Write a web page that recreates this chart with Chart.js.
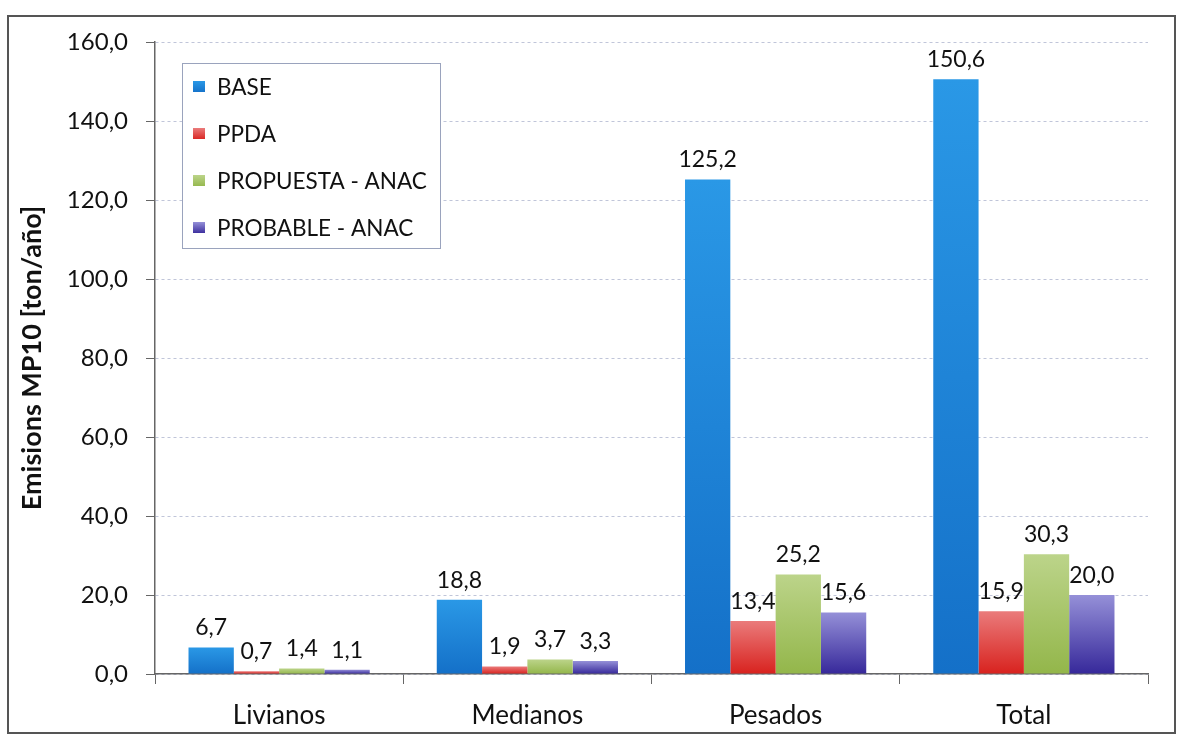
<!DOCTYPE html>
<html>
<head>
<meta charset="utf-8">
<script src="https://cdn.jsdelivr.net/npm/chart.js@4"></script>
<style>
  html, body { margin: 0; padding: 0; background: #fff; }
  #wrap { width: 1180px; height: 737px; position: relative; }
</style>
</head>
<body>
<div id="wrap"><canvas id="emisionesChart" width="1180" height="737"></canvas></div>
<script>
// Datos
const categories = ['Livianos', 'Medianos', 'Pesados', 'Total'];
const seriesLabels = ['BASE', 'PPDA', 'PROPUESTA - ANAC', 'PROBABLE - ANAC'];
const baseValues = [6.7, 18.8, 125.2, 150.6];
const ppdaValues = [0.7, 1.9, 13.4, 15.9];
const propuestaValues = [1.4, 3.7, 25.2, 30.3];
const probableValues = [1.1, 3.3, 15.6, 20.0];
const yMin = 0, yMax = 160, yStep = 20;
const yTitle = 'Emisions MP10 [ton/año]';

// colores (arriba, abajo) de cada serie
const seriesColors = [
    ['#2a98e6', '#1470c8'],
    ['#ea7b7b', '#d8221e'],
    ['#bcd48a', '#93b64a'],
    ['#9590d8', '#36289a']
];

const FONT = 'Lato, "Noto Sans", sans-serif';

function fmt(v) {
    return v.toFixed(1).replace('.', ',');
}

// Degradado vertical por barra
function barGradient(colors) {
    return function (ctx) {
        const chart = ctx.chart;
        if (ctx.type !== 'data' || !chart.chartArea) return colors[1];
        const y = chart.scales.y;
        const top = y.getPixelForValue(ctx.raw);
        const bottom = y.getPixelForValue(0);
        if (!isFinite(top) || bottom - top < 1) return colors[1];
        const g = chart.ctx.createLinearGradient(0, top, 0, bottom);
        g.addColorStop(0, colors[0]);
        g.addColorStop(1, colors[1]);
        return g;
    };
}

// Marco exterior
const framePlugin = {
    id: 'frame',
    beforeDraw(chart) {
        const c = chart.ctx;
        c.save();
        c.fillStyle = '#fff';
        c.fillRect(0, 0, chart.width, chart.height);
        c.strokeStyle = '#555';
        c.lineWidth = 2;
        c.strokeRect(8, 16, chart.width - 13, chart.height - 20);
        c.restore();
    }
};

// Etiquetas de valor sobre las barras
const valueLabels = {
    id: 'valueLabels',
    afterDatasetsDraw(chart) {
        const c = chart.ctx;
        c.save();
        c.font = '23px ' + FONT;
        c.fillStyle = '#111';
        c.textAlign = 'center';
        c.textBaseline = 'bottom';
        chart.data.datasets.forEach((ds, i) => {
            chart.getDatasetMeta(i).data.forEach((bar, j) => {
                c.fillText(fmt(ds.data[j]), bar.x, bar.y - 8);
            });
        });
        c.restore();
    }
};

// Leyenda dentro del area del grafico
const innerLegend = {
    id: 'innerLegend',
    afterDraw(chart) {
        const c = chart.ctx;
        const a = chart.chartArea;
        const x0 = a.left + 27, y0 = a.top + 21, w = 258, h = 185;
        c.save();
        c.fillStyle = '#fff';
        c.fillRect(x0, y0, w, h);
        c.strokeStyle = '#9aa3bd';
        c.lineWidth = 1;
        c.strokeRect(x0 + 0.5, y0 + 0.5, w, h);
        c.font = '22.5px ' + FONT;
        c.textBaseline = 'middle';
        chart.data.datasets.forEach((ds, i) => {
            const cy = y0 + 24 + i * 47;
            const g = c.createLinearGradient(0, cy - 6, 0, cy + 6);
            g.addColorStop(0, seriesColors[i][0]);
            g.addColorStop(1, seriesColors[i][1]);
            c.fillStyle = g;
            c.fillRect(x0 + 11, cy - 6, 12, 11);
            c.fillStyle = '#111';
            c.fillText(ds.label, x0 + 35, cy + 1);
        });
        c.restore();
    }
};

const seriesData = [baseValues, ppdaValues, propuestaValues, probableValues];

new Chart(document.getElementById('emisionesChart').getContext('2d'), {
    type: 'bar',
    data: {
        labels: categories,
        datasets: seriesData.map((vals, i) => ({
            label: seriesLabels[i],
            data: vals,
            backgroundColor: barGradient(seriesColors[i]),
            borderWidth: 0,
            categoryPercentage: 0.73,
            barPercentage: 1.0
        }))
    },
    options: {
        responsive: false,
        animation: false,
        devicePixelRatio: 1,
        layout: { padding: { top: 42, right: 32, bottom: 0, left: 0 } },
        plugins: {
            legend: { display: false },
            tooltip: { enabled: false }
        },
        scales: {
            x: {
                afterFit: s => { s.height = 63; },
                grid: {
                    display: true,
                    drawOnChartArea: false,
                    offset: true,
                    tickLength: 10,
                    tickColor: '#666'
                },
                border: { display: true, color: '#666', width: 1.5 },
                ticks: {
                    color: '#111',
                    padding: 16,
                    font: { family: FONT, size: 26 }
                }
            },
            y: {
                min: yMin,
                max: yMax,
                afterFit: s => { s.width = 155; },
                ticks: {
                    stepSize: yStep,
                    color: '#111',
                    padding: 18,
                    font: { family: FONT, size: 24 },
                    callback: v => fmt(v)
                },
                grid: {
                    color: 'rgba(140,150,185,0.55)',
                    tickColor: '#666',
                    tickLength: 9,
                    tickBorderDash: []
                },
                border: { display: true, color: '#666', width: 1.5, dash: [3, 3] },
                title: {
                    display: true,
                    text: yTitle,
                    color: '#111',
                    padding: { top: 16, bottom: 0 },
                    font: { family: FONT, size: 27, weight: 'bold' }
                }
            }
        }
    },
    plugins: [framePlugin, valueLabels, innerLegend]
});
</script>
</body>
</html>
